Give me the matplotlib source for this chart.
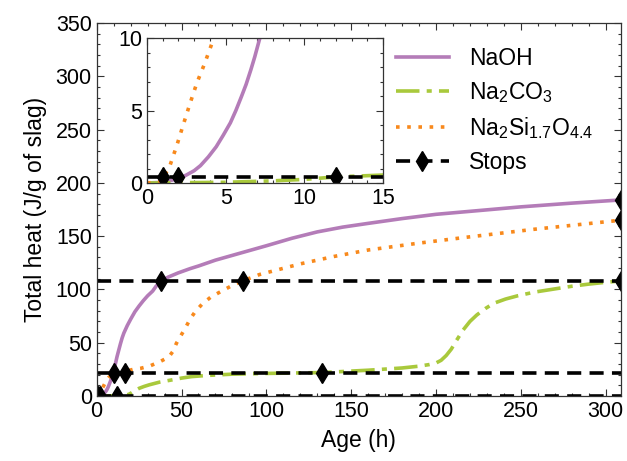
import numpy as np
import matplotlib
matplotlib.use("Agg")
import matplotlib.pyplot as plt
from matplotlib.ticker import MultipleLocator

plt.rcParams['font.family'] = ['Liberation Sans', 'DejaVu Sans']
plt.rcParams['mathtext.default'] = 'regular'

# heat curves (age in h, heat in J/g of slag)
naoh_x = [0, 1, 2, 2.5, 3, 3.4, 3.9, 4.4, 4.85, 5.3, 5.65, 6.0, 6.3, 6.6, 6.85, 7.1, 7.5, 8, 8.5, 9, 9.5, 10,
          11, 12, 13, 14, 15, 16, 18, 20, 22.5, 25, 27.5, 30, 33, 35, 38, 42, 48, 55, 60, 70, 80, 90, 100,
          115, 130, 145, 160, 180, 200, 225, 250, 280, 309]
naoh_y = [0, 0.05, 0.3, 0.55, 0.85, 1.2, 1.8, 2.5, 3.3, 4.15, 5.0, 5.95, 6.8, 7.8, 8.7, 9.7, 11.3, 13.4, 15.5, 17.6, 19.8, 22,
          30, 37, 43, 49, 54.5, 59, 66, 72, 79, 84.5, 89.5, 94, 98.5, 103, 107.8, 111.5, 115.5, 119.5, 122, 127.5, 132, 136.5, 141,
          148, 154, 158.5, 162, 166.5, 170.5, 174, 177.5, 181, 184]

na2co3_x = [0, 5, 8, 10, 12, 15, 17, 19, 20.5, 22, 25, 28, 31, 37, 44, 50, 56, 65, 80, 100, 133, 160, 180,
            190, 196, 200, 203, 206, 209, 212, 216, 220, 224, 229, 234, 241, 248, 258, 268, 280, 290, 300, 309]
na2co3_y = [0, 0.05, 0.15, 0.25, 0.42, 0.55, 0.8, 1.6, 3, 4.5, 7.2, 9, 10.5, 13, 15, 16.8, 18.2, 19.3, 20.5, 21.2, 22, 24.2, 26.3,
            28, 29.5, 31, 33.5, 38, 44, 52, 62, 70, 76, 82, 87, 91, 94, 97.5, 100, 103, 105, 106.7, 108]

silicate_x = [0, 0.9, 1.05, 1.46, 1.9, 2.3, 2.74, 3.17, 3.65, 4.12, 5, 6, 7, 8.5, 10, 13, 16.5, 19, 22, 26, 31.5, 34,
              37.5, 40, 43, 45, 47, 49, 52, 55, 58, 62, 67, 72, 79, 86, 96, 108, 120, 140, 160, 190, 218, 258, 285, 309]
silicate_y = [0, 0.1, 0.4, 1.2, 2.6, 4.0, 5.5, 6.9, 8.2, 9.6, 12.3, 15.2, 17.3, 19.2, 20.2, 21.2, 22, 24, 25.2, 26, 28.3, 30,
              32.4, 34.5, 37.7, 42, 49.5, 55, 63, 72, 79, 86, 92.5, 97, 103, 108, 114, 119, 124, 131, 137, 143.5, 149, 156.5, 161, 165]

# stop levels and where each curve reaches them
stop_levels = [0.42, 22, 108]
stop_ages = [[1, 2, 12], [10, 16.5, 133], [38, 86, 309]]
end_age = 309
end_heats = [184, 165]

purple = '#b47cb8'
green = '#a9c93c'
orange = '#f8891c'


def drawCurves(ax):
    ax.plot(naoh_x, naoh_y, color=purple, lw=2.6, label='NaOH')
    ax.plot(na2co3_x, na2co3_y, color=green, lw=2.6, ls=(0, (6.5, 2, 1.4, 2)), label='Na$_2$CO$_3$')
    ax.plot(silicate_x, silicate_y, color=orange, lw=2.6, ls=(0, (1, 2.1)), label='Na$_2$Si$_{1.7}$O$_{4.4}$')
    for i, lvl in enumerate(stop_levels):
        xs = [0] + stop_ages[i]
        if xs[-1] != end_age:
            xs = xs + [end_age]
            marks = list(range(1, len(xs) - 1))
        else:
            marks = list(range(1, len(xs)))
        lab = 'Stops' if i == 0 else None
        ax.plot(xs, [lvl] * len(xs), color='black', lw=2.6, ls=(0, (3.9, 2.3)),
                marker='d', ms=10.5, markevery=marks, label=lab)
    ax.plot([end_age] * len(end_heats), end_heats, ls='none', marker='d', ms=10.5, color='black')


def styleAxis(ax, major_x, minor_x, major_y, minor_y):
    ax.xaxis.set_major_locator(MultipleLocator(major_x))
    ax.xaxis.set_minor_locator(MultipleLocator(minor_x))
    ax.yaxis.set_major_locator(MultipleLocator(major_y))
    ax.yaxis.set_minor_locator(MultipleLocator(minor_y))
    ax.tick_params(which='both', direction='in', top=True, right=True, width=0.8, color='#333333')
    ax.tick_params(which='major', length=5, labelsize=15.5)
    ax.tick_params(which='minor', length=2.5)
    for s in ax.spines.values():
        s.set_linewidth(0.9)
        s.set_color('#333333')


fig = plt.figure(figsize=(6.27, 4.61), dpi=100)
ax = fig.add_axes([0.1542, 0.141, 0.8362, 0.809])
drawCurves(ax)
ax.set_xlim(0, 309)
ax.set_ylim(0, 350)
styleAxis(ax, 50, 10, 50, 10)
ax.set_xlabel('Age (h)', fontsize=16.5, labelpad=5)
ax.set_ylabel('Total heat (J/g of slag)', fontsize=16.5, labelpad=6)

leg = ax.legend(loc='upper left', bbox_to_anchor=(0.571, 0.937), frameon=False,
                handlelength=2.3, handletextpad=0.9, labelspacing=0.45,
                borderpad=0, borderaxespad=0, fontsize=16.5)

ins = fig.add_axes([0.2344, 0.603, 0.3764, 0.3145])
drawCurves(ins)
ins.set_xlim(0, 15)
ins.set_ylim(0, 10)
styleAxis(ins, 5, 1, 5, 1)

fig.savefig('out.png', dpi=100)
